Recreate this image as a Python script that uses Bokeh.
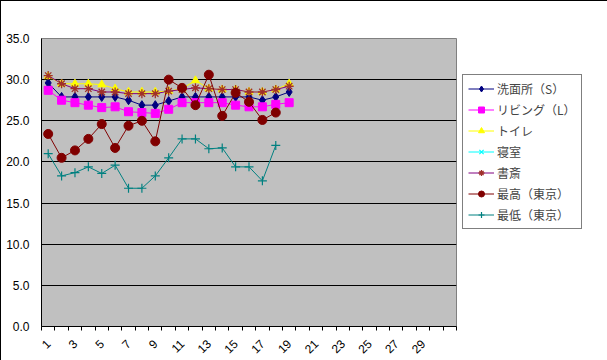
import math
from bokeh.plotting import figure
from bokeh.models import FixedTicker, PrintfTickFormatter, Legend, LegendItem, Range1d
from bokeh.embed import file_html
from bokeh.resources import INLINE

# ---- data ----
days = list(range(1, 32))
tick_days = days[0:29:2]
senmen = [29.6, 27.9, 27.9, 27.9, 27.9, 27.9, 27.5, 26.9, 26.9, 27.4, 27.9, 27.9, 27.9, 27.9, 27.9, 27.9, 27.5, 27.9, 28.5]
living = [28.7, 27.5, 27.2, 26.9, 26.6, 26.7, 26.1, 26.0, 25.9, 26.4, 27.2, 27.2, 27.2, 27.2, 26.9, 26.7, 26.7, 27.0, 27.2]
toilet = [30.4, 29.5, 29.5, 29.5, 29.4, 28.9, 28.5, 28.5, 28.5, 28.6, 28.9, 29.9, 28.9, 28.8, 28.8, 28.5, 28.5, 28.8, 29.5]
bedroom = [float("nan")] * 19
study = [30.5, 29.5, 28.9, 28.9, 28.5, 28.5, 28.3, 28.3, 28.3, 28.6, 28.8, 29.0, 28.9, 28.8, 28.8, 28.5, 28.5, 28.8, 29.2]
high_tokyo = [23.4, 20.5, 21.4, 22.8, 24.6, 21.7, 24.4, 25.0, 22.5, 30.0, 29.0, 26.9, 30.6, 25.6, 28.4, 27.3, 25.1, 26.0]
low_tokyo = [21.0, 18.3, 18.7, 19.4, 18.6, 19.6, 16.8, 16.8, 18.3, 20.5, 22.8, 22.8, 21.6, 21.7, 19.4, 19.4, 17.7, 22.0]
y_ticks = [0, 5, 10, 15, 20, 25, 30, 35]

series = [
    ("洗面所（S）", senmen, "#000080", "diamond", 9),
    ("リビング（L）", living, "#FF00FF", "square", 8),
    ("トイレ", toilet, "#FFFF00", "triangle", 8),
    ("寝室", bedroom, "#00FFFF", "x", 8),
    ("書斎", study, "#800040", "asterisk", 9),
    ("最高（東京）", high_tokyo, "#800000", "circle", 9),
    ("最低（東京）", low_tokyo, "#008080", "cross", 9),
]
line_colors = {"書斎": "#800080"}

p = figure(width=605, height=357, output_backend="svg", toolbar_location=None,
           x_range=Range1d(0.5, 31.5), y_range=Range1d(0, 35),
           frame_width=415, frame_height=288,
           min_border_left=40, min_border_top=37, min_border_right=150, min_border_bottom=32,
           background_fill_color="#C0C0C0", border_fill_color="white",
           outline_line_color="#808080")
p.styles = {"border": "1px solid black"}

items = []
for name, vals, col, mk, sz in series:
    xs = days[:len(vals)]
    lc = line_colors.get(name, col)
    r1 = p.line(xs, vals, line_color=lc, line_width=1)
    if mk == "asterisk":
        r2 = p.scatter(xs, vals, marker=mk, size=sz, line_color="#A0302A", line_width=1.3)
    elif mk in ("x", "cross"):
        r2 = p.scatter(xs, vals, marker=mk, size=sz, line_color=col, line_width=1.2)
    else:
        r2 = p.scatter(xs, vals, marker=mk, size=sz, fill_color=col, line_color=col)
    items.append(LegendItem(label=name, renderers=[r1, r2]))

legend = Legend(items=items, location=(6, 97),
                label_text_font="Noto Sans CJK JP", label_text_font_size="12px",
                glyph_width=26, glyph_height=15, label_height=15, label_standoff=3,
                spacing=4, padding=5, margin=0,
                border_line_color="black", border_line_width=1,
                background_fill_color="white", background_fill_alpha=1)
p.add_layout(legend, "right")

# axes
p.xgrid.visible = False
p.ygrid.grid_line_color = "black"
p.ygrid.grid_line_width = 1
p.ygrid.ticker = FixedTicker(ticks=y_ticks)

p.yaxis.ticker = FixedTicker(ticks=y_ticks)
p.yaxis.formatter = PrintfTickFormatter(format="%.1f")
p.yaxis.major_tick_out = 0
p.yaxis.major_tick_in = 0
p.yaxis.minor_tick_out = 0
p.yaxis.minor_tick_in = 0
p.yaxis.axis_line_color = "black"
p.yaxis.major_label_standoff = 12

p.xaxis.ticker = FixedTicker(ticks=tick_days, minor_ticks=[d - 0.5 for d in days] + [31.5])
p.xaxis.major_tick_out = 0
p.xaxis.major_tick_in = 0
p.xaxis.minor_tick_out = 4
p.xaxis.minor_tick_in = 0
p.xaxis.minor_tick_line_color = "black"
p.xaxis.axis_line_color = "black"
p.xaxis.major_label_orientation = math.pi / 4
p.xaxis.major_label_standoff = 11

for ax in (p.xaxis, p.yaxis):
    ax.major_label_text_font = "Liberation Sans"
    ax.major_label_text_font_size = "12px"
    ax.major_label_text_color = "black"

open("out.html", "w").write(file_html(p, INLINE))
